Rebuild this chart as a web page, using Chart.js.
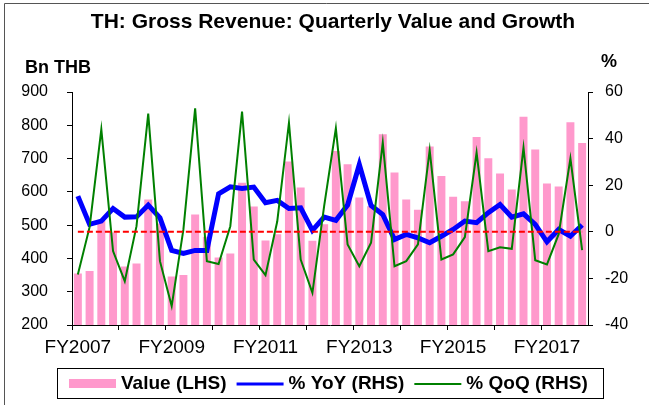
<!DOCTYPE html>
<html>
<head>
<meta charset="utf-8">
<script src="https://cdn.jsdelivr.net/npm/chart.js@4/dist/chart.umd.min.js"></script>
<style>
  body { margin: 0; background: #fff; }
  canvas { display: block; }
</style>
</head>
<body>
<canvas id="chart" width="649" height="405"></canvas>
<script>
// quarterly data, FY2007 Q1 .. FY2017 Q4
const years = [2007, 2008, 2009, 2010, 2011, 2012, 2013, 2014, 2015, 2016, 2017]
const quarters = ['Q1', 'Q2', 'Q3', 'Q4']
const categories = years.flatMap(y => quarters.map(q => q + ' FY' + y))

const xTickLabels = ['FY2007', 'FY2009', 'FY2011', 'FY2013', 'FY2015', 'FY2017']

// Bn THB
const value = [355, 362, 513, 478, 376, 385, 577, 505, 346, 350,
  532, 465, 403, 415, 627, 556, 454, 473, 691, 613,
  453, 503, 723, 683, 583, 557, 773, 658, 577, 546,
  736, 648, 585, 572, 765, 701, 655, 607, 826, 727,
  625, 616, 809, 747]

// % YoY
const yoy = [15.3, 3.2, 4.6, 10.0, 6.3, 6.4, 11.5, 6.0, -8.0, -9.3,
  -8.0, -8.0, 16.3, 19.3, 18.6, 19.2, 12.5, 13.5, 10.0, 10.3,
  0.6, 6.3, 4.9, 11.5, 28.9, 11.3, 7.4, -3.3, -1.1, -2.6,
  -4.7, -1.9, 1.0, 4.6, 3.9, 8.2, 11.7, 6.3, 7.7, 3.2,
  -4.3, 1.0, -1.9, 2.9]

// % QoQ
const qoq = [-18.3, 2.0, 44.0, -8.3, -21.2, 2.4, 50.7, -12.6, -31.9, 1.0,
  53.0, -12.6, -13.8, 2.4, 51.6, -11.9, -18.6, 4.4, 46.8, -11.9,
  -26.2, 11.0, 44.4, -5.4, -14.8, -4.7, 38.3, -14.8, -12.6, -5.4,
  35.0, -11.9, -9.7, -2.3, 34.0, -8.3, -6.6, -7.3, 36.1, -12.2,
  -14.0, -1.0, 31.5, -7.9]

const zeroLine = categories.map(() => 0)

const FONT = "'Liberation Sans', Arial, sans-serif"
Chart.defaults.font.family = FONT
Chart.defaults.color = '#000'

const frame = {
  id: 'frame',
  beforeDraw(chart) {
    const c = chart.ctx
    c.save()
    c.fillStyle = '#fff'
    c.fillRect(0, 0, chart.width, chart.height)
    c.strokeStyle = '#555'
    c.lineWidth = 1
    c.beginPath()
    c.moveTo(4.5, 405)
    c.lineTo(4.5, 3.5)
    c.lineTo(649, 3.5)
    c.stroke()
    c.restore()
  },
  afterDraw(chart) {
    const c = chart.ctx
    c.save()
    c.fillStyle = '#000'
    c.textBaseline = 'middle'
    c.textAlign = 'center'
    c.font = 'bold 21px ' + FONT
    c.fillText('TH: Gross Revenue: Quarterly Value and Growth', 333, 22)
    c.textAlign = 'left'
    c.font = 'bold 18px ' + FONT
    c.fillText('Bn THB', 25, 68)
    c.fillText('%', 601, 62)

    // legend box
    c.strokeStyle = '#000'
    c.lineWidth = 1
    c.strokeRect(57.5, 368.5, 546, 30)
    c.font = 'bold 19px ' + FONT
    const ds = chart.data.datasets.slice(0, 3)
    let x = 69
    const y = 384
    ds.forEach(d => {
      if (d.type === 'bar') {
        c.fillStyle = d.backgroundColor
        c.fillRect(x, y - 5, 47, 9)
      } else {
        c.strokeStyle = d.borderColor
        c.lineWidth = d.borderWidth === 5 ? 3 : 2
        c.beginPath()
        c.moveTo(x, y)
        c.lineTo(x + 47, y)
        c.stroke()
      }
      x += 52
      c.fillStyle = '#000'
      c.fillText(d.label, x, y)
      x += c.measureText(d.label).width + 10
    })
    c.restore()
  }
}

new Chart(document.getElementById('chart'), {
  data: {
    labels: categories,
    datasets: [
      {
        type: 'bar',
        label: 'Value (LHS)',
        data: value,
        yAxisID: 'y',
        backgroundColor: '#ff99cc',
        barPercentage: 0.68,
        categoryPercentage: 1,
        order: 3,
      },
      {
        type: 'line',
        label: '% YoY (RHS)',
        data: yoy,
        yAxisID: 'y1',
        borderColor: '#0000ff',
        borderWidth: 5,
        pointRadius: 0,
        tension: 0,
        order: 2,
      },
      {
        type: 'line',
        label: '% QoQ (RHS)',
        data: qoq,
        yAxisID: 'y1',
        borderColor: '#008000',
        borderWidth: 2,
        pointRadius: 0,
        tension: 0,
        order: 1,
      },
      {
        type: 'line',
        label: 'zero',
        data: zeroLine,
        yAxisID: 'y1',
        borderColor: '#ff0000',
        borderWidth: 2,
        borderDash: [6, 3],
        pointRadius: 0,
        order: 0,
      },
    ],
  },
  options: {
    responsive: false,
    animation: false,
    devicePixelRatio: 1,
    layout: {
      padding: { left: 0, right: 0, top: 92, bottom: 50 },
    },
    plugins: {
      legend: { display: false },
      title: { display: false },
      tooltip: { enabled: false },
    },
    scales: {
      x: {
        type: 'category',
        offset: true,
        grid: {
          offset: true,
          drawOnChartArea: false,
          tickLength: 5,
          color: ctx => (ctx.index % 4 === 0 ? '#000' : 'rgba(0,0,0,0)'),
        },
        border: { color: '#000', width: 1 },
        ticks: {
          autoSkip: false,
          maxRotation: 0,
          minRotation: 0,
          padding: 6,
          font: { size: 19 },
          callback: (v, i) => (i % 8 === 0 ? xTickLabels[i / 8] : ''),
        },
        afterFit: s => { s.height = 30 },
      },
      y: {
        position: 'left',
        min: 200,
        max: 900,
        grid: { drawOnChartArea: false, tickLength: 5, color: '#000' },
        border: { color: '#000', width: 1 },
        ticks: { stepSize: 100, padding: 19, font: { size: 16 } },
        afterFit: s => { s.width = 72 },
      },
      y1: {
        position: 'right',
        min: -40,
        max: 60,
        grid: { drawOnChartArea: false, tickLength: 5, color: '#000' },
        border: { color: '#000', width: 1 },
        ticks: { stepSize: 20, padding: 12, font: { size: 16 } },
        afterFit: s => { s.width = 61 },
      },
    },
  },
  plugins: [frame],
})
</script>
</body>
</html>
